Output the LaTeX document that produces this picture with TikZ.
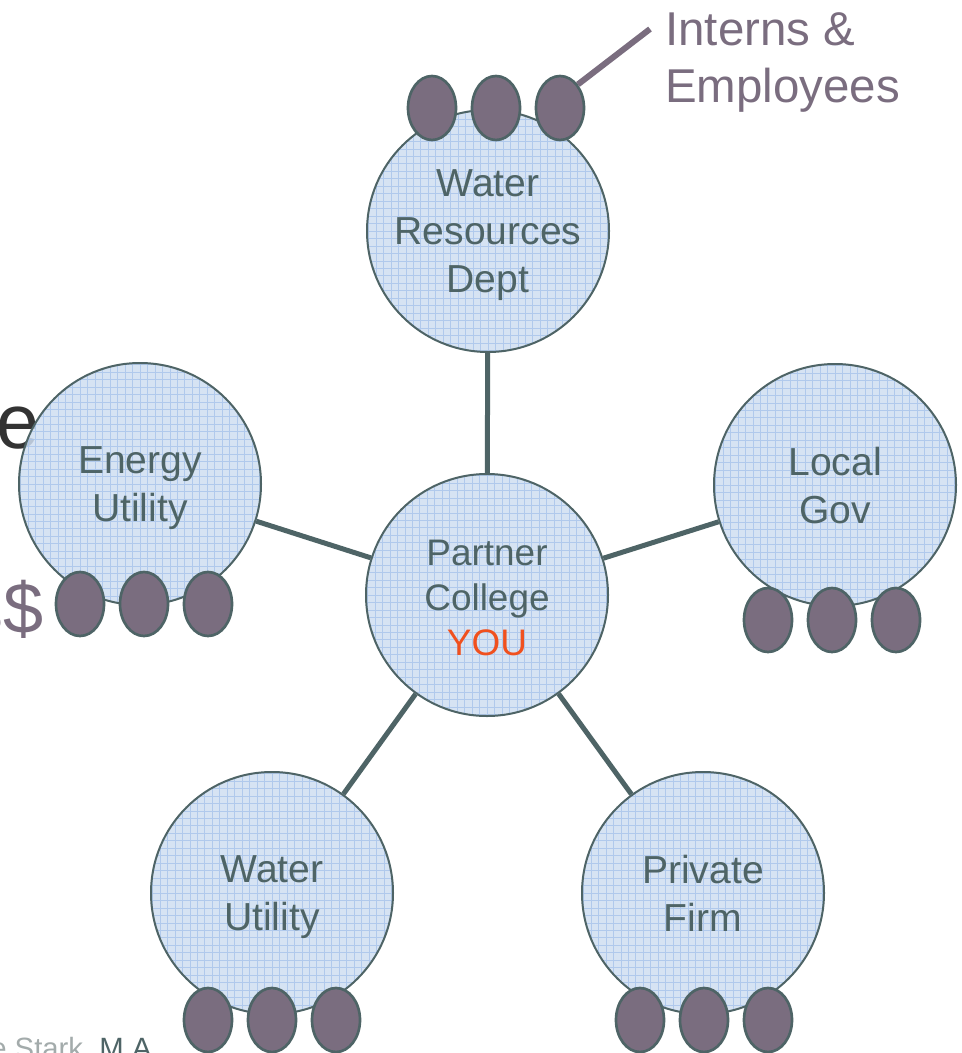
\documentclass[tikz,border=0pt]{standalone}
\usepackage{fontspec}
\setmainfont{Liberation Sans}
\usetikzlibrary{shapes.geometric}
\definecolor{edgegray}{HTML}{4E6466}
\definecolor{hubblue}{HTML}{CFDEF1}
\definecolor{gridblue}{HTML}{A6C3EA}
\definecolor{plum}{HTML}{7A6D7F}
\definecolor{youorange}{HTML}{F0501E}
\definecolor{faintgray}{HTML}{A3ABAB}
\tikzset{
  hub/.style={circle, draw=edgegray, line width=1.5pt, fill=hubblue, fill opacity=0.85,
    minimum size=181.5pt, inner sep=0pt,
    path picture={\draw[gridblue, line width=0.5pt, opacity=0.8] (path picture bounding box.south west) grid[step=5.6pt] (path picture bounding box.north east);}},
  hubtext/.style={inner sep=0pt, align=center, text=edgegray, text depth=0pt, font=\fontsize{29.3}{36}\selectfont},
  person/.style={ellipse, draw=edgegray, line width=2pt, fill=plum, minimum width=36pt, minimum height=48pt, inner sep=0pt},
  link/.style={edgegray, line width=3.75pt}
}
\begin{document}
\begin{tikzpicture}[x=0.75pt, y=-0.75pt]
  \useasboundingbox (0,0) rectangle (961,1053);
  % cut-off words at the left edge
  \node[anchor=base east, inner sep=0pt, text=black!80, font=\fontsize{58}{58}\selectfont] at (40,448) (cutword) {e};
  \node[anchor=base east, inner sep=0pt, text=plum, font=\fontsize{54}{54}\selectfont] at (44,633) (money) {s\$};
  \node[anchor=base west, inner sep=0pt, font=\fontsize{22}{22}\selectfont] at (-10,1058) (credit) {\textcolor{faintgray}{e Stark,} \textcolor{edgegray}{M.A.}};

  \node[hub, label={[hubtext, yshift=-2pt, font=\fontsize{27.7}{33.75}\selectfont]center:Partner\\College\\\textcolor{youorange}{YOU}}] at (487,595) (college) {};
  \node[hub, label={[hubtext]center:Water\\Resources\\Dept}] at (488,231) (water) {};
  \node[hub, label={[hubtext]center:Energy\\Utility}] at (140,484) (energy) {};
  \node[hub, label={[hubtext]center:Local\\Gov}] at (835,485) (gov) {};
  \node[hub, label={[hubtext]center:Water\\Utility}] at (272,893) (wutil) {};
  \node[hub, label={[hubtext]center:Private\\Firm}] at (703,893) (firm) {};

  \draw[link] (college) -- (water);
  \draw[link] (college) -- (energy);
  \draw[link] (college) -- (gov);
  \draw[link] (college) -- (wutil);
  \draw[link] (college) -- (firm);

  \node[person] at (432,108) (water1) {};
  \node[person] at (496,108) (water2) {};
  \node[person] at (560,108) (water3) {};
  \node[person] at (80,604) (energy1) {};
  \node[person] at (144,604) (energy2) {};
  \node[person] at (208,604) (energy3) {};
  \node[person] at (768,620) (gov1) {};
  \node[person] at (832,620) (gov2) {};
  \node[person] at (896,620) (gov3) {};
  \node[person] at (208,1020) (wutil1) {};
  \node[person] at (272,1020) (wutil2) {};
  \node[person] at (336,1020) (wutil3) {};
  \node[person] at (640,1020) (firm1) {};
  \node[person] at (704,1020) (firm2) {};
  \node[person] at (768,1020) (firm3) {};

  % label for the small ovals
  \node[anchor=north west, inner sep=0pt, align=left, text=plum, font=\fontsize{35.6}{42.75}\selectfont] at (665,12) (interns) {Interns \&\\Employees};
  \coordinate (tip) at (650,29);
  \draw[plum, line width=4.5pt] (water3.north east) -- (tip);
\end{tikzpicture}
\end{document}
